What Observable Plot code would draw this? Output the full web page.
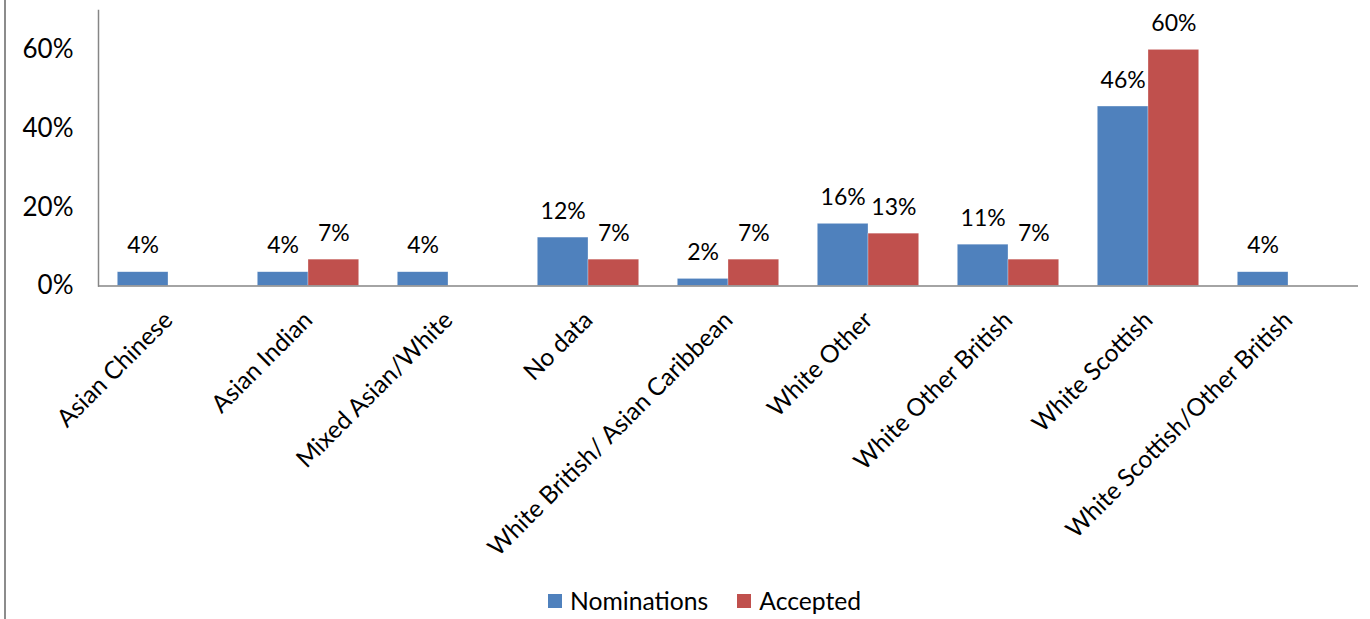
<!DOCTYPE html>
<html>
<head>
<meta charset="utf-8">
<script src="https://cdn.jsdelivr.net/npm/d3@7"></script>
<script src="https://cdn.jsdelivr.net/npm/@observablehq/plot@0.6"></script>
<style>
  html, body { margin: 0; padding: 0; background: #fff; }
  #wrap { position: relative; width: 1370px; height: 619px; overflow: hidden; font-family: Lato, "Open Sans", sans-serif; }
  #border { position: absolute; left: 4px; top: 0; width: 2px; height: 619px; background: #8c8c8c; }
  #legend { position: absolute; left: 548px; top: 586px; display: flex; gap: 29px; font-size: 24.7px; color: #000; }
  #legend .item { display: flex; align-items: center; gap: 8px; }
  #legend .sw { width: 14px; height: 14px; display: inline-block; }
</style>
</head>
<body>
<div id="wrap">
  <div id="chart"></div>
  <div id="border"></div>
  <div id="legend"></div>
</div>
<script>
const categories = ["Asian Chinese", "Asian Indian", "Mixed Asian/White", "No data", "White British/ Asian Caribbean", "White Other", "White Other British", "White Scottish", "White Scottish/Other British"];
const series = ["Nominations", "Accepted"];
const nominations = [3.5, 3.5, 3.5, 12.3, 1.8, 15.8, 10.5, 45.6, 3.5];
const accepted = [0, 6.7, 0, 6.7, 6.7, 13.3, 6.7, 60, 0];
const colors = ["#4F81BD", "#C0504D"];
const yTicks = [0, 20, 40, 60];

const data = [];
categories.forEach((c, i) => {
  data.push({category: c, series: series[0], value: nominations[i]});
  data.push({category: c, series: series[1], value: accepted[i]});
});

const H = 585;
const chart = Plot.plot({
  width: 1370,
  height: H,
  marginLeft: 94,
  marginRight: 9,
  marginTop: 10,
  marginBottom: H - 285.5,
  style: {fontFamily: "Lato, 'Open Sans', sans-serif", fontSize: "22px", color: "#000", background: "#fff"},
  fx: {domain: categories, padding: 0, label: null},
  x: {domain: series, paddingInner: 0, paddingOuter: 0.38, axis: null, round: false},
  y: {domain: [0, 70], label: null},
  color: {domain: series, range: colors},
  marks: [
    Plot.barY(data, {fx: "category", x: "series", y: "value", fill: "series", stroke: "#ffffff", strokeOpacity: 0.5, strokeWidth: 0.6}),
    Plot.text(data.filter(d => d.value > 0), {fx: "category", x: "series", y: "value", text: d => Math.round(d.value) + "%", lineAnchor: "bottom", dy: -19, fill: "#000", fontSize: 23}),
    Plot.ruleY([0], {stroke: "#868686", strokeWidth: 1.5}),
    Plot.frame({anchor: "left", facetAnchor: "left", stroke: "#868686", strokeWidth: 1.5}),
    Plot.axisY({ticks: yTicks, tickFormat: d => d + "%", tickSize: 0, tickPadding: 25, label: null, fontSize: 26}),
    Plot.axisFx({anchor: "bottom", tickRotate: -45, tickSize: 0, tickPadding: 30, label: null, fontSize: 24.5})
  ]
});
document.getElementById("chart").appendChild(chart);

const legend = document.getElementById("legend");
series.forEach((s, i) => {
  const item = document.createElement("div");
  item.className = "item";
  const sw = document.createElement("span");
  sw.className = "sw";
  sw.style.background = colors[i];
  const t = document.createElement("span");
  t.textContent = s;
  item.appendChild(sw);
  item.appendChild(t);
  legend.appendChild(item);
});
</script>
</body>
</html>
